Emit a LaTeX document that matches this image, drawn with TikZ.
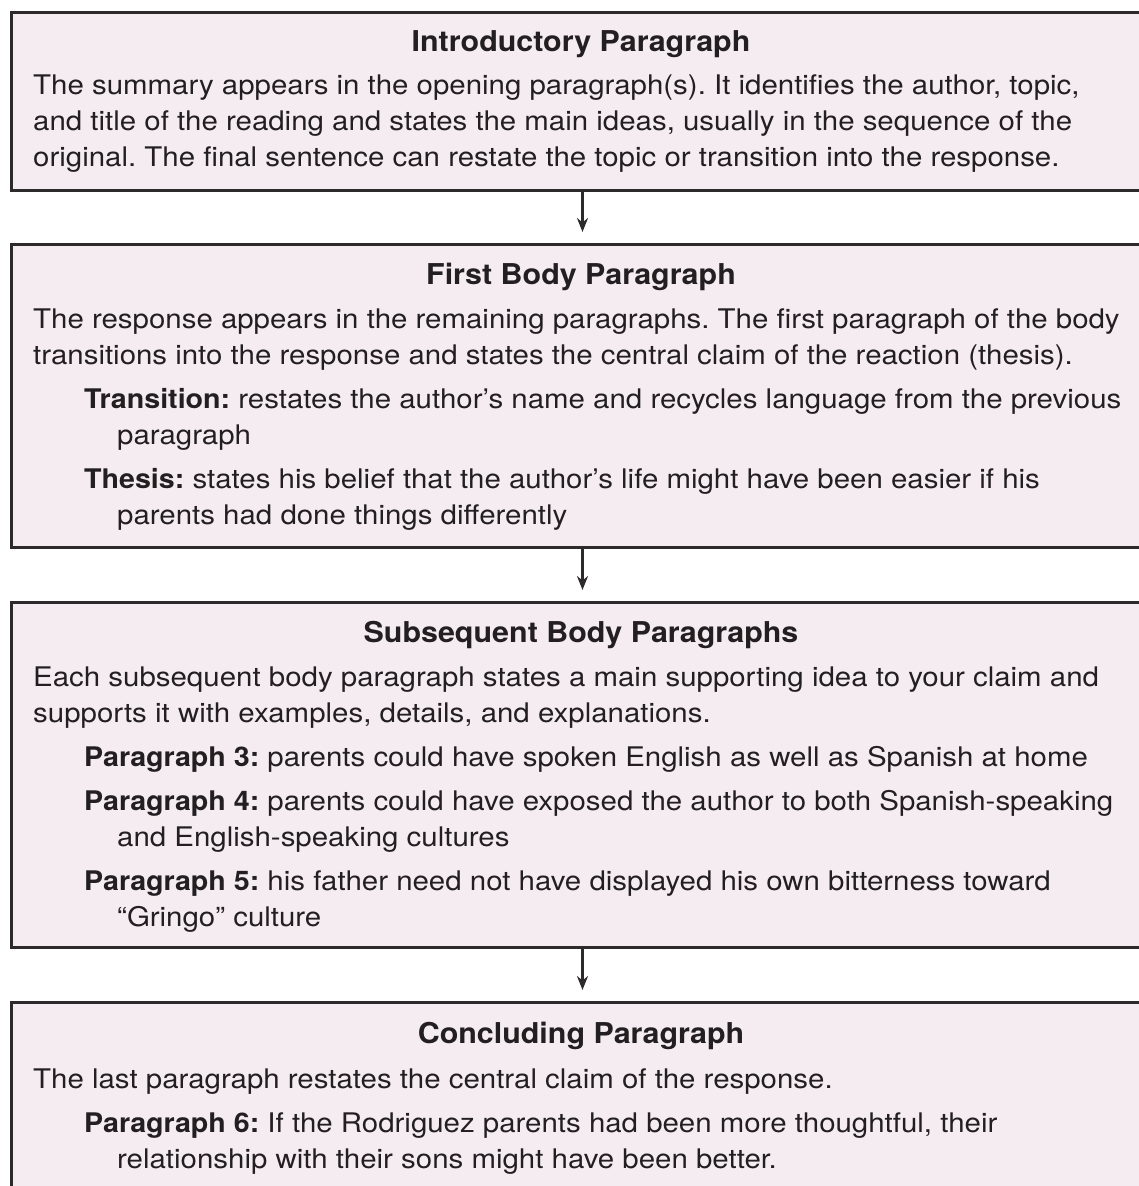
\documentclass[tikz,border=0pt]{standalone}
\usepackage{fontspec}
\setmainfont{TeX Gyre Heros}[FakeStretch=1.09, BoldFeatures={FakeStretch=1.06}]
\usetikzlibrary{arrows.meta}
\definecolor{boxfill}{RGB}{245,236,241}
\definecolor{boxline}{RGB}{45,42,44}
\definecolor{txt}{RGB}{35,31,32}
\tikzset{
  box/.style={draw=boxline, line width=3pt, fill=boxfill, rectangle, inner sep=0pt, anchor=north west},
  ttl/.style={anchor=base, inner sep=0pt, text=txt, font=\fontsize{28.7}{36}\selectfont\bfseries},
  ln/.style={anchor=base west, inner sep=0pt, text=txt, font=\fontsize{27}{36}\selectfont\frenchspacing},
  arr/.style={draw=boxline, line width=2.2pt, -{Stealth[length=14pt,width=11pt]}}
}
\begin{document}
\begin{tikzpicture}[x=1pt,y=-1pt]
\useasboundingbox (0,0) rectangle (1139,1186);
\clip (0,0) rectangle (1139,1186);
% boxes
\node (b1) [box, minimum width=1142pt, minimum height=178pt] at (10,10.5) {};
\node (b2) [box, minimum width=1142pt, minimum height=303pt] at (10,243) {};
\node (b3) [box, minimum width=1142pt, minimum height=345pt] at (10,601) {};
\node (b4) [box, minimum width=1142pt, minimum height=250pt] at (10,1001) {};
% arrows
\draw[arr] (b1.south) -- ([yshift=11pt]b2.north);
\draw[arr] (b2.south) -- ([yshift=11pt]b3.north);
\draw[arr] (b3.south) -- ([yshift=11pt]b4.north);
% box 1
\node (t1) [ttl] at (581,51) {Introductory Paragraph};
\node (l11) [ln] at (33,94) {The summary appears in the opening paragraph(s). It identifies the author, topic,};
\node (l12) [ln] at (33,130) {and title of the reading and states the main ideas, usually in the sequence of the};
\node (l13) [ln] at (33,166) {original. The final sentence can restate the topic or transition into the response.};
% box 2
\node (t2) [ttl] at (581,284) {First Body Paragraph};
\node (l21) [ln] at (33,328) {The response appears in the remaining paragraphs. The first paragraph of the body};
\node (l22) [ln] at (33,364) {transitions into the response and states the central claim of the reaction (thesis).};
\node (l23) [ln] at (84,408) {\textbf{Transition:} restates the author’s name and recycles language from the previous};
\node (l24) [ln] at (117,444) {paragraph};
\node (l25) [ln] at (84,488) {\textbf{Thesis:} states his belief that the author’s life might have been easier if his};
\node (l26) [ln] at (117,524) {parents had done things differently};
% box 3
\node (t3) [ttl] at (581,642) {Subsequent Body Paragraphs};
\node (l31) [ln] at (33,686) {Each subsequent body paragraph states a main supporting idea to your claim and};
\node (l32) [ln] at (33,722) {supports it with examples, details, and explanations.};
\node (l33) [ln] at (84,766) {\textbf{Paragraph 3:} parents could have spoken English as well as Spanish at home};
\node (l34) [ln] at (84,810) {\textbf{Paragraph 4:} parents could have exposed the author to both Spanish-speaking};
\node (l35) [ln] at (117,846) {and English-speaking cultures};
\node (l36) [ln] at (84,890) {\textbf{Paragraph 5:} his father need not have displayed his own bitterness toward};
\node (l37) [ln] at (117,926) {“Gringo” culture};
% box 4
\node (t4) [ttl] at (581,1043) {Concluding Paragraph};
\node (l41) [ln] at (33,1088) {The last paragraph restates the central claim of the response.};
\node (l42) [ln] at (84,1132) {\textbf{Paragraph 6:} If the Rodriguez parents had been more thoughtful, their};
\node (l43) [ln] at (117,1168) {relationship with their sons might have been better.};
\end{tikzpicture}
\end{document}
